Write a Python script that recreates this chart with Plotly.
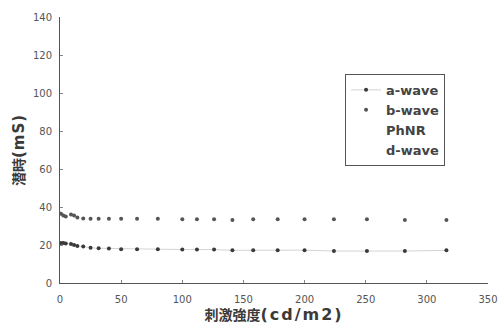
import plotly.graph_objects as go

intensity = [0.8, 2.7, 4.7, 9, 11.5, 14.2, 19, 25, 31.6, 40, 50, 63, 80, 100, 112, 126, 141,
             158, 178, 200, 224, 251, 282, 316]
a_wave = [21.0, 21.0, 20.8, 20.5, 20.0, 19.5, 19.2, 18.5, 18.3, 18.2, 17.8, 17.8, 17.8, 17.6,
          17.6, 17.6, 17.2, 17.3, 17.3, 17.3, 16.8, 16.8, 16.8, 17.2]
b_wave = [36.5, 35.5, 35.0, 36.0, 35.5, 34.5, 34.0, 33.8, 33.8, 33.8, 33.8, 33.8, 33.8, 33.5,
          33.5, 33.5, 33.2, 33.5, 33.5, 33.5, 33.5, 33.5, 33.2, 33.2]
x_ticks = [0, 50, 100, 150, 200, 250, 300, 350]
y_ticks = [0, 20, 40, 60, 80, 100, 120, 140]

fig = go.Figure()
fig.add_trace(go.Scatter(x=intensity, y=a_wave, name="a-wave", mode="lines+markers",
                         line=dict(color="rgba(110,110,110,0.3)", width=1),
                         marker=dict(symbol="circle", size=4, color="#3a3a3a")))
fig.add_trace(go.Scatter(x=intensity, y=b_wave, name="b-wave", mode="markers",
                         marker=dict(symbol="circle", size=4, color="#555")))
fig.add_trace(go.Scatter(x=[None], y=[None], name="PhNR", mode="markers",
                         marker=dict(size=1, color="rgba(0,0,0,0)")))
fig.add_trace(go.Scatter(x=[None], y=[None], name="d-wave", mode="markers",
                         marker=dict(size=1, color="rgba(0,0,0,0)")))

axis_font = dict(family="DejaVu Sans", size=10, color="#555")
title_font = dict(family="DejaVu Sans, Noto Sans CJK JP", size=14, color="#3a3a3a",
                  weight="bold")
fig.update_layout(
    width=499, height=329,
    margin=dict(l=60, r=11, t=17, b=46),
    plot_bgcolor="white", paper_bgcolor="white",
    showlegend=True,
    legend=dict(x=0.666, y=0.786, xanchor="left", yanchor="top",
                bgcolor="white", bordercolor="#555", borderwidth=1,
                font=dict(family="DejaVu Sans", size=13, color="#444", weight="bold"),
                tracegroupgap=0, itemwidth=30, entrywidth=68),
    xaxis=dict(range=[0, 350], tickvals=x_ticks, ticktext=[str(v) for v in x_ticks],
               automargin=False,
               showgrid=False, zeroline=False, showline=True, linecolor="#555", linewidth=1,
               ticks="inside", ticklen=3, tickcolor="#888", tickfont=axis_font,
               ticklabelstandoff=7,
               title=dict(text="刺激強度<span style='font-size:16px;letter-spacing:2px'>(cd/m2)</span>",
                          standoff=3, font=title_font)),
    yaxis=dict(range=[0, 140], tickvals=y_ticks, ticktext=[str(v) for v in y_ticks],
               automargin=False,
               showgrid=False, zeroline=False, showline=True, linecolor="#555", linewidth=1,
               ticks="inside", ticklen=3, tickcolor="#888", tickfont=axis_font,
               ticklabelstandoff=5,
               title=dict(text="潜時<span style='font-size:15px;letter-spacing:1px'>(mS)</span>",
                          standoff=5, font=title_font)),
)

fig.write_html("out.html", config={"displayModeBar": False},
               post_script="document.body.style.margin='0';document.body.style.overflow='hidden';")
